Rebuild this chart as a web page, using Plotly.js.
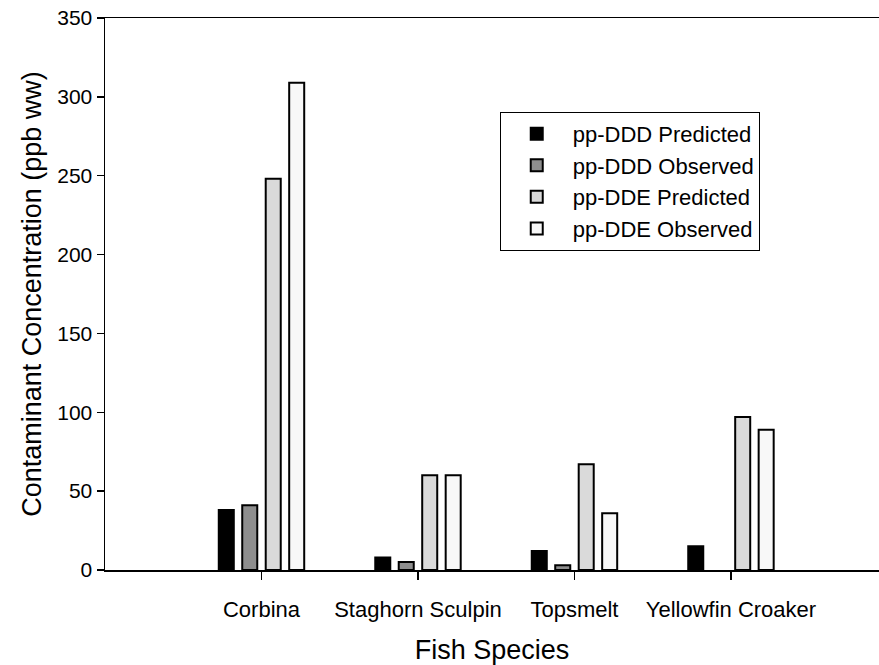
<!DOCTYPE html>
<html>
<head>
<meta charset="utf-8">
<script src="https://cdn.plot.ly/plotly-3.0.1.min.js"></script>
<style>html,body{margin:0;padding:0;background:#fff;}#chart{width:879px;height:665px;}</style>
</head>
<body>
<div id="chart"></div>
<script>
const species = ["Corbina", "Staghorn Sculpin", "Topsmelt", "Yellowfin Croaker"];
const seriesNames = ["pp-DDD Predicted", "pp-DDD Observed", "pp-DDE Predicted", "pp-DDE Observed"];
const dddPredicted = [38, 8, 12, 15];
const dddObserved = [41, 5, 3, null];
const ddePredicted = [248, 60, 67, 97];
const ddeObserved = [309, 60, 36, 89];
const yTicks = [0, 50, 100, 150, 200, 250, 300, 350];

const fills = ["#000000", "#8e8e8e", "#dadada", "#f8f8f8"];
const values = [dddPredicted, dddObserved, ddePredicted, ddeObserved];

const traces = values.map((v, i) => ({
  type: "bar",
  name: seriesNames[i],
  x: species,
  y: v,
  marker: {
    color: fills[i],
    line: {color: "#000000", width: 2}
  },
  hoverinfo: "x+y+name"
}));

const font = "Liberation Sans, Arial, sans-serif";

const layout = {
  width: 879,
  height: 665,
  margin: {l: 105, r: 0, t: 18, b: 95},
  paper_bgcolor: "#ffffff",
  plot_bgcolor: "#ffffff",
  font: {family: font, color: "#000000", size: 21},
  barmode: "group",
  bargap: 0.4,
  bargroupgap: 0.36,
  showlegend: true,
  legend: {
    x: 0.51, y: 0.83, xanchor: "left", yanchor: "top",
    bordercolor: "#000000", borderwidth: 1,
    bgcolor: "#ffffff",
    font: {family: font, size: 22, color: "#000000"},
    itemwidth: 62,
    tracegroupgap: 0
  },
  xaxis: {
    type: "category",
    range: [-1.0, 3.946],
    showline: true, linecolor: "#000000", linewidth: 1.5,
    mirror: true,
    ticks: "outside", ticklen: 8, tickwidth: 1.5, tickcolor: "#000000",
    ticklabelstandoff: 11,
    tickfont: {family: font, size: 22},
    showgrid: false, zeroline: false,
    title: {text: "Fish Species", font: {family: font, size: 27}, standoff: 20}
  },
  yaxis: {
    range: [0, 350],
    tickmode: "array",
    tickvals: yTicks,
    ticktext: yTicks.map(String),
    showline: true, linecolor: "#000000", linewidth: 1.5,
    mirror: false,
    ticks: "outside", ticklen: 7, tickwidth: 1.5, tickcolor: "#000000",
    tickfont: {family: font, size: 21},
    showgrid: false, zeroline: false,
    title: {text: "Contaminant Concentration (ppb ww)", font: {family: font, size: 27}, standoff: 8}
  }
};

Plotly.newPlot("chart", traces, layout, {displayModeBar: false, staticPlot: true});
</script>
</body>
</html>
